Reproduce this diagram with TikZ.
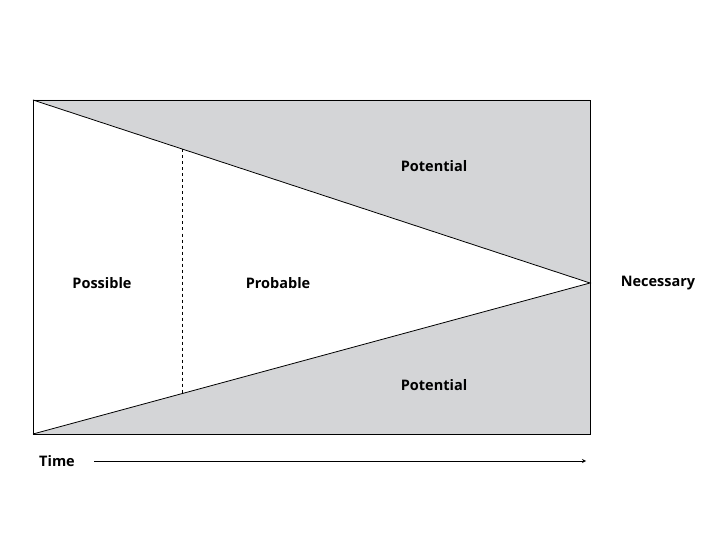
\documentclass[tikz,border=0pt]{standalone}
\usepackage{fontspec}
\setmainfont{Open Sans}
\definecolor{colorpot}{HTML}{D4D5D7}
\tikzset{
  label/.style={font=\bfseries\fontsize{14.5}{16}\selectfont},
}
\begin{document}
\begin{tikzpicture}[x=1pt,y=-1pt]
\useasboundingbox (0,0) rectangle (720,540);
  % Define corners
  \coordinate (TL) at (33,100);
  \coordinate (TR) at (590,100);
  \coordinate (BL) at (33,434);
  \coordinate (BR) at (590,434);
  \coordinate (N) at (590,283);
  \coordinate (DT) at (182,149.5);
  \coordinate (DB) at (182,393.5);
  % Shaded areas
  \fill[colorpot] (TL) -- (TR) -- (N) -- cycle;
  \fill[colorpot] (BL) -- (BR) -- (N) -- cycle;
  % Frame and lines
  \draw[line width=0.8pt] (TL) rectangle (BR);
  \draw[line width=0.8pt] (TL) -- (N) -- (BL);
  \draw[dashed, line width=0.8pt] (DT) -- (DB);
  % Labels
  \node[label] (possible) at (102,283) {Possible};
  \node[label] (probable) at (278,283) {Probable};
  \node[label] (pottop) at (434,166) {Potential};
  \node[label] (potbot) at (434,385) {Potential};
  \node[label] (necessary) at (658,283) {Necessary};
  \node[label] (time) at (57,461) {Time};
  \coordinate (tend) at (586,461);
  \draw[-stealth, line width=0.8pt] (time.east) ++(16,0) -- (tend);
\end{tikzpicture}
\end{document}
